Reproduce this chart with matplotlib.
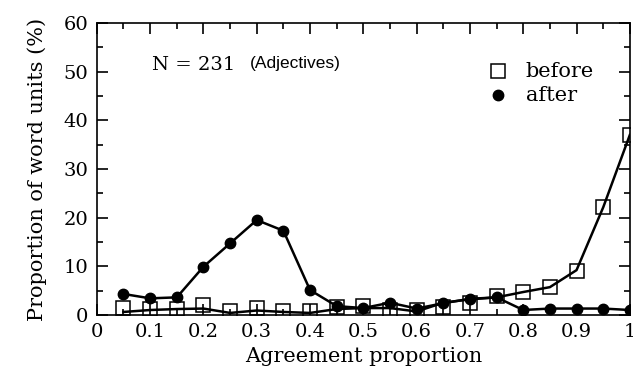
import numpy as np
import matplotlib.pyplot as plt
from matplotlib.ticker import MultipleLocator

# Agreement proportion bins (0.05 steps)
agreement = np.round(np.arange(0.05, 1.001, 0.05), 2)

# before: marker values and the connecting curve
before_pts = [1.5, 1.2, 1.3, 2.0, 0.7, 1.4, 0.7, 0.7, 1.6, 1.8,
              1.0, 0.9, 1.7, 2.5, 3.9, 4.8, 5.7, 9.1, 22.1, 37.0]
before_line = [0.6, 1.0, 1.2, 1.3, 0.4, 0.9, 0.6, 0.4, 1.2, 1.4,
               1.4, 0.7, 2.5, 3.2, 3.6, 4.7, 5.7, 9.2, 22.1, 37.0]
# after
after_vals = [4.3, 3.4, 3.6, 9.9, 14.7, 19.5, 17.3, 5.1, 1.8, 1.4,
              2.5, 1.3, 2.4, 3.3, 3.6, 1.0, 1.3, 1.3, 1.3, 1.0]

xticks = [0, 0.1, 0.2, 0.3, 0.4, 0.5, 0.6, 0.7, 0.8, 0.9, 1]
xticklabels = ['0', '0.1', '0.2', '0.3', '0.4', '0.5', '0.6', '0.7', '0.8', '0.9', '1']

plt.rcParams['font.family'] = ['DejaVu Serif']

fig = plt.figure(figsize=(6.33, 3.78), dpi=100)
ax = fig.add_axes([0.153, 0.167, 0.842, 0.772])

ax.plot(agreement, before_line, color='black', lw=1.8, zorder=2)
ax.plot(agreement, before_pts, ls='none', marker='s', ms=10, mfc='none',
        mec='black', mew=1.1, zorder=3)
ax.plot(agreement, after_vals, color='black', lw=1.8, marker='o', ms=7.5,
        mfc='black', mec='black', zorder=4)

ax.set_xlim(0, 1)
ax.set_ylim(0, 60)
ax.set_xticks(xticks)
ax.set_xticklabels(xticklabels)
ax.xaxis.set_minor_locator(MultipleLocator(0.05))
ax.yaxis.set_major_locator(MultipleLocator(10))
ax.yaxis.set_minor_locator(MultipleLocator(5))
ax.tick_params(which='both', direction='in', top=True, right=True,
               labelsize=14, width=1.2, pad=6)
ax.tick_params(which='major', length=8)
ax.tick_params(which='minor', length=4)
for s in ax.spines.values():
    s.set_linewidth(1.2)

ax.set_xlabel('Agreement proportion', fontsize=15, labelpad=4)
ax.set_ylabel('Proportion of word units (%)', fontsize=15, labelpad=12)

ax.text(0.104, 51.4, 'N = 231', fontsize=14, va='center')
ax.text(0.287, 51.6, '(Adjectives)', fontsize=12.5, va='center',
        family=['Liberation Sans'])

# legend drawn by hand in data coordinates
ax.plot([0.753], [50.1], ls='none', marker='s', ms=10, mfc='none', mec='black', mew=1.1)
ax.text(0.805, 50.1, 'before', fontsize=15, va='center')
ax.plot([0.753], [45.2], ls='none', marker='o', ms=7.5, color='black')
ax.text(0.805, 45.2, 'after', fontsize=15, va='center')

fig.savefig('out.png', dpi=100)
